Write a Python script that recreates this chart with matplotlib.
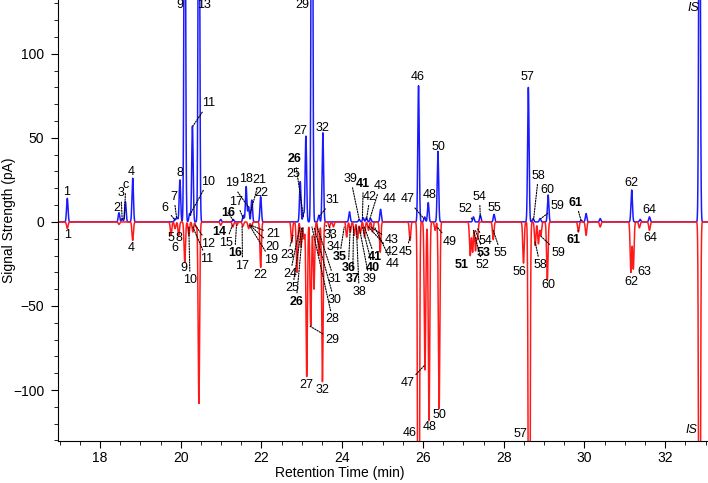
import numpy as np
import matplotlib.pyplot as plt
from matplotlib.ticker import MultipleLocator

plt.rcParams['font.family'] = ['Liberation Sans', 'DejaVu Sans']

# upper trace: retention time (min) and peak height (pA)
blue_rt = [17.19, 18.47, 18.55, 18.63, 18.81, 19.86, 19.91, 19.98, 20.10, 20.22,
           20.29, 20.45, 20.99, 21.30, 21.55, 21.62, 21.68, 21.76, 21.98, 22.96,
           23.04, 23.10, 23.25, 23.42, 23.52, 24.18, 24.42, 24.52, 24.60, 24.70,
           24.95, 25.89, 26.04, 26.13, 26.37, 27.25, 27.42, 27.76, 28.61, 28.73,
           28.90, 29.10, 29.92, 30.04, 30.39, 31.17, 31.38, 31.61, 32.85]
blue_h = [14, 5.5, 2, 12, 26, 2, 2.5, 25, 300, 5,
          57, 300, 1.5, 1.5, 4, 21, 9, 13, 15, 24,
          5, 51, 400, 4, 53, 6, 1.5, 2.5, 2.5, 2,
          7.5, 81, 3, 11.5, 42, 3, 4, 4.5, 80, 2,
          2, 16, 1, 5, 2, 19, 1.5, 3, 300]

# lower (inverted) trace: retention time (min) and peak depth (pA)
red_rt = [17.19, 18.47, 18.81, 19.76, 19.86, 19.95, 20.10, 20.20, 20.30, 20.38,
          20.45, 20.99, 21.29, 21.39, 21.54, 21.68, 21.75, 21.98, 22.75, 22.88,
          22.98, 23.05, 23.12, 23.22, 23.30, 23.42, 23.51, 23.68, 23.78, 24.11,
          24.20, 24.30, 24.38, 24.45, 24.55, 24.65, 24.75, 24.94, 25.68, 25.89,
          26.05, 26.15, 26.30, 26.40, 27.17, 27.23, 27.30, 27.35, 27.74, 28.49,
          28.63, 28.78, 28.86, 28.92, 29.08, 29.85, 30.04, 30.39, 31.15, 31.21,
          31.36, 31.61, 32.85]
red_h = [4, 1.5, 11, 8, 4, 8, 24, 8, 6, 3,
         108, 2, 3, 2, 2.5, 4, 3, 27, 12, 30,
         15, 10, 92, 62, 40, 20, 95, 3, 3, 9,
         6, 8, 10, 7, 9, 5, 6, 18, 11, 400,
         88, 118, 5, 111, 20, 18, 17, 10, 10.5, 24.5,
         400, 14, 13, 8, 34.5, 6, 8, 3, 30, 28,
         3.5, 5, 400]

x_ticks = [18, 20, 22, 24, 26, 28, 30, 32]
y_ticks = [-100, -50, 0, 50, 100]

# peak labels: text, label position, leader target (or None), style
top_labels = [
    ("1", 17.18, 18, None, ""), ("2", 18.42, 8.5, None, ""),
    ("3", 18.52, 17, (18.55, 1), ""), ("c", 18.64, 22, (18.6, 2), ""),
    ("4", 18.78, 29.5, None, ""), ("6", 19.61, 8.5, (19.86, 1), ""),
    ("7", 19.83, 15, (19.9, 2), ""), ("8", 19.98, 29, None, ""),
    ("9", 19.98, 129, None, ""), ("13", 20.58, 129, None, ""),
    ("11", 20.68, 70.5, (20.3, 57), ""), ("10", 20.68, 24, (20.22, 4), ""),
    ("16", 21.17, 5.5, (21.3, 1), "b"), ("17", 21.38, 12, (21.55, 2), ""),
    ("19", 21.26, 23, (21.67, 9), ""), ("18", 21.62, 25.5, None, ""),
    ("21", 21.95, 25, (21.72, 5), ""), ("22", 21.99, 17.5, None, ""),
    ("25", 22.79, 28.5, None, ""), ("26", 22.83, 37.5, (23.04, 3), "b"),
    ("27", 22.97, 54, None, ""), ("29", 23.02, 129, None, ""),
    ("32", 23.52, 56, None, ""), ("31", 23.76, 13, (23.42, 3), ""),
    ("39", 24.21, 25.5, (24.42, 1.5), ""), ("41", 24.52, 22.5, (24.5, 1.5), "b"),
    ("42", 24.69, 15, (24.6, 1.5), ""), ("43", 24.94, 21.5, (24.68, 1.5), ""),
    ("44", 25.17, 13.5, None, ""), ("47", 25.62, 13.5, (26.02, 2), ""),
    ("48", 26.16, 16, None, ""), ("46", 25.88, 86, None, ""),
    ("50", 26.38, 44.5, None, ""), ("52", 27.04, 7.5, (27.22, 1.5), ""),
    ("54", 27.4, 15, (27.42, 3), ""), ("55", 27.76, 8, None, ""),
    ("57", 28.6, 86, None, ""), ("58", 28.86, 27.5, (28.74, 1.5), ""),
    ("60", 29.08, 19, None, ""), ("59", 29.33, 9.5, (28.92, 2), ""),
    ("61", 29.79, 11.5, (29.92, 0.5), "b"), ("62", 31.17, 23, None, ""),
    ("64", 31.61, 7, None, ""), ("IS", 32.69, 127, None, "i"),
]
bottom_labels = [
    ("1", 17.19, -7.7, None, ""), ("4", 18.78, -15.6, None, ""),
    ("5", 19.75, -9.7, None, ""), ("8", 19.96, -9.7, None, ""),
    ("6", 19.86, -15.5, None, ""), ("9", 20.09, -27.6, None, ""),
    ("10", 20.23, -34.5, (20.2, -3), ""), ("11", 20.64, -22, (20.3, -3), ""),
    ("12", 20.68, -13, (20.36, -2), ""), ("14", 20.95, -6, None, "b"),
    ("15", 21.12, -12.3, (21.28, -2), ""), ("16", 21.34, -18.6, (21.38, -2), "b"),
    ("17", 21.53, -26, (21.52, -2), ""), ("19", 22.23, -22.6, (21.7, -2), ""),
    ("20", 22.28, -14.7, (21.72, -2), ""), ("21", 22.29, -7.3, (21.74, -2), ""),
    ("22", 21.98, -31.5, None, ""), ("23", 22.65, -19.6, (22.78, -8), ""),
    ("24", 22.71, -31, (22.95, -3), ""), ("25", 22.77, -39.5, (23.0, -3), ""),
    ("26", 22.86, -47.4, (23.03, -3), "b"), ("27", 23.1, -97, None, ""),
    ("32", 23.51, -100, None, ""), ("29", 23.76, -70, (23.2, -62), ""),
    ("28", 23.76, -58, (23.25, -3), ""), ("30", 23.8, -46.4, (23.3, -3), ""),
    ("31", 23.8, -34, (23.38, -3), ""), ("33", 23.7, -7.8, (23.6, -2), ""),
    ("34", 23.78, -15, (23.68, -2), ""), ("35", 23.93, -21, (24.05, -3), "b"),
    ("36", 24.15, -27.6, (24.2, -3), "b"), ("37", 24.26, -34, (24.28, -3), "b"),
    ("38", 24.42, -41.5, (24.35, -3), ""), ("39", 24.67, -34, (24.42, -3), ""),
    ("40", 24.76, -27.6, (24.5, -3), "b"), ("41", 24.81, -21, (24.55, -3), "b"),
    ("42", 25.22, -18, (24.65, -3), ""), ("43", 25.22, -11, (24.7, -3), ""),
    ("44", 25.25, -25.2, (24.8, -3), ""), ("45", 25.58, -17.7, (25.68, -9), ""),
    ("49", 26.65, -11.7, (26.35, -3), ""), ("47", 25.62, -96, (26.05, -85), ""),
    ("46", 25.67, -125.7, None, ""), ("48", 26.16, -121.8, None, ""),
    ("50", 26.41, -114.8, None, ""), ("51", 26.97, -25.6, None, "b"),
    ("53", 27.51, -18.6, (27.3, -5), "b"), ("52", 27.48, -25.9, (27.25, -5), ""),
    ("54", 27.54, -11.4, (27.35, -4), ""), ("55", 27.93, -18.6, (27.74, -5), ""),
    ("56", 28.38, -29.6, None, ""), ("57", 28.41, -126, None, ""),
    ("58", 28.9, -25.6, (28.78, -12), ""), ("59", 29.36, -18.6, (28.9, -8), ""),
    ("60", 29.11, -37.5, None, ""), ("61", 29.73, -10.7, (29.85, -5), "b"),
    ("62", 31.17, -35.5, None, ""), ("63", 31.49, -29.6, None, ""),
    ("64", 31.63, -9.7, None, ""), ("IS", 32.64, -124, None, "i"),
]


def trace(t, rts, hs, width=0.018):
    y = np.zeros_like(t)
    for rt, h in zip(rts, hs):
        y += h * np.exp(-0.5 * ((t - rt) / width) ** 2)
    return y


t = np.arange(16.9, 33.1, 0.002)
upper = trace(t, blue_rt, blue_h)
lower = -trace(t, red_rt, red_h)

fig = plt.figure(figsize=(7.08, 4.83), dpi=100)
ax = fig.add_axes([58 / 708, 42 / 483, 650 / 708, 441 / 483])

ax.plot(t, upper, color='#1a1aff', lw=1.1)
ax.plot(t, lower, color='#ff1a1a', lw=1.1)

ax.set_xlim(16.96, 33.06)
ax.set_ylim(-130.3, 132)

for labels in (top_labels, bottom_labels):
    for txt, lx, ly, target, style in labels:
        kw = dict(fontsize=9, ha='center', va='center', color='black')
        if style == "b":
            kw['fontweight'] = 'bold'
        if style == "i":
            kw['fontstyle'] = 'italic'
        if target is None:
            ax.text(lx, ly, txt, **kw)
        else:
            ax.annotate(txt, xy=target, xytext=(lx, ly),
                        arrowprops=dict(arrowstyle='-', linestyle=(0, (1.2, 1.2)),
                                        lw=0.8, color='black',
                                        shrinkA=0, shrinkB=0), **kw)

ax.spines['top'].set_visible(False)
ax.spines['right'].set_visible(False)
ax.set_xticks(x_ticks)
ax.set_yticks(y_ticks)
ax.xaxis.set_minor_locator(MultipleLocator(0.5))
ax.yaxis.set_minor_locator(MultipleLocator(10))
ax.tick_params(which='major', direction='out', length=5, width=0.8, labelsize=10)
ax.tick_params(which='minor', direction='out', length=3, width=0.6)
ax.tick_params(axis='y', pad=5)
ax.tick_params(axis='x', pad=2)

ax.set_ylabel('Signal Strength (pA)', fontsize=10)
ax.yaxis.set_label_coords(-0.064, 0.5)
ax.set_xlabel('Retention Time (min)', fontsize=10)
ax.xaxis.set_label_coords(0.434, -0.056)

fig.savefig('out.png', dpi=100)
